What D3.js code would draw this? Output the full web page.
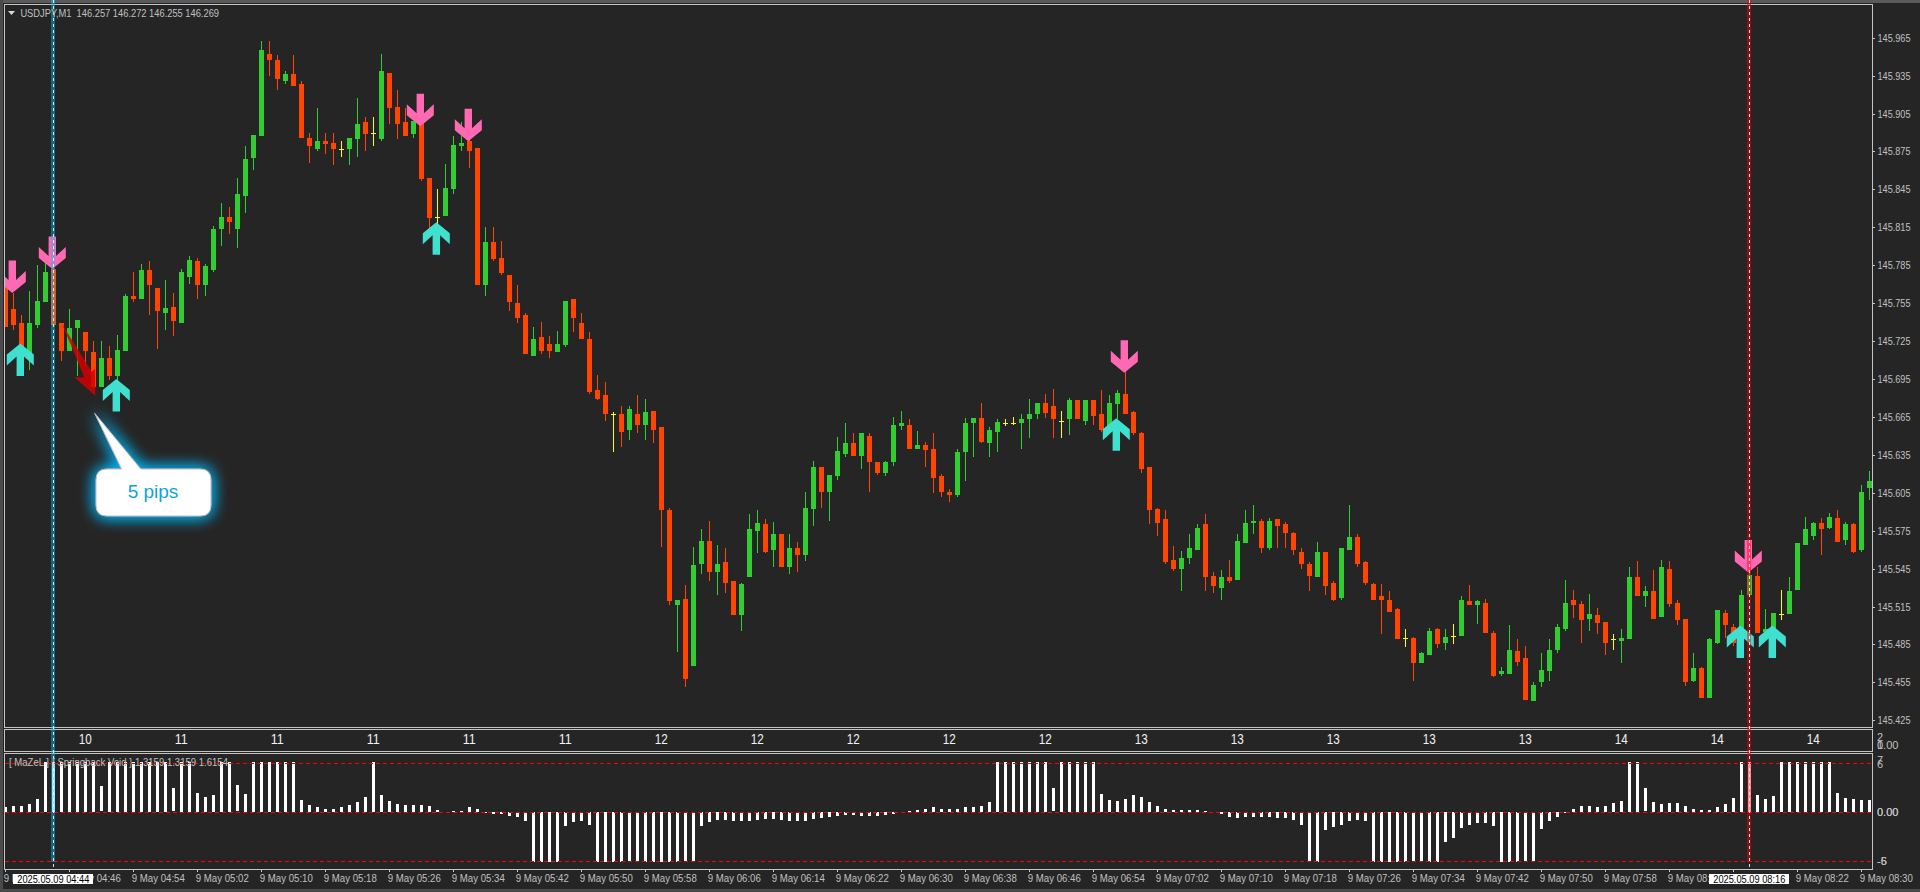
<!DOCTYPE html>
<html><head><meta charset="utf-8">
<script src="https://cdn.jsdelivr.net/npm/d3@7/dist/d3.min.js"></script>
<style>
html,body{margin:0;padding:0;background:#252525;overflow:hidden}
svg{display:block}
text{font-family:"Liberation Sans",Arial,sans-serif}
</style></head><body>
<svg id="c" width="1920" height="892"></svg>
<script>
// Prices are in thousandths above 145.000.
const priceBase = 145;
const opens = [
768,750,739,715,738,756,782,739,717,735,
732,716,689,712,697,717,761,758,781,767,
747,752,739,776,788,769,781,814,823,814,
840,870,887,952,947,931,936,928,886,877,
883,882,877,877,885,898,890,885,937,910,
898,889,898,854,823,824,845,879,883,878,
769,803,791,777,755,746,713,728,723,716,
722,758,739,727,686,682,667,667,655,667,
659,670,657,591,516,521,468,549,567,542,
550,535,508,538,575,580,560,572,546,561,
556,592,625,606,618,636,644,634,650,629,
621,629,658,659,640,643,640,618,606,603,
637,660,664,644,653,660,660,660,663,667,
676,674,662,663,678,662,678,667,656,675,
683,669,652,625,592,584,552,545,553,560,
580,539,530,538,536,565,581,583,561,584,
580,573,558,549,538,558,534,522,560,570,
550,533,523,520,513,490,490,470,477,497,
486,492,492,519,516,518,494,462,462,480,
474,440,455,464,481,497,520,517,505,508,
503,489,488,489,538,523,527,507,545,518,
505,456,466,443,486,510,499,492,524,539,
495,496,509,509,528,564,571,581,577,585,
568,580,560,609];
const highs = [
773,763,746,765,785,789,794,739,750,742,
732,725,725,721,730,762,780,786,788,767,
773,763,782,792,791,786,816,834,831,854,
879,888,962,962,951,939,951,931,890,909,
890,890,883,886,917,902,902,952,937,924,
909,899,907,854,845,865,887,898,892,878,
815,815,804,777,769,747,736,740,729,733,
757,758,747,732,698,693,669,674,674,682,
679,670,657,593,520,532,562,576,583,564,
561,535,534,588,591,584,582,572,572,566,
606,630,625,619,649,660,652,652,652,629,
630,665,670,663,654,645,652,620,608,640,
664,664,676,657,663,663,665,667,679,676,
683,687,670,680,678,678,678,686,682,686,
705,670,653,625,593,591,563,559,572,580,
588,542,544,552,572,591,595,584,585,584,
582,574,561,550,566,558,535,561,595,572,
551,534,533,527,514,497,491,479,498,498,
497,501,523,532,520,521,496,467,500,489,
484,455,478,489,501,536,528,519,525,514,
503,493,497,546,551,531,544,552,551,520,
505,478,467,490,512,512,501,528,543,546,
513,510,528,538,565,586,582,585,589,591,
582,581,611,622];
const lows = [
736,734,713,702,735,756,738,709,717,697,
705,688,689,694,694,717,756,758,746,719,
734,729,739,770,758,761,780,800,810,799,
826,860,887,935,924,928,927,886,866,875,
873,864,871,864,871,875,879,883,897,885,
887,886,852,813,813,824,841,875,862,769,
761,788,777,749,739,715,713,715,712,716,
720,732,727,683,678,662,637,641,647,652,
647,644,562,516,479,451,468,541,535,524,
526,508,496,538,557,557,546,546,541,542,
551,579,593,583,615,633,634,624,606,619,
618,626,655,640,640,625,605,602,598,602,
614,633,644,633,637,658,659,640,648,663,
664,648,648,651,663,659,659,653,655,663,
667,651,621,580,571,549,543,527,549,560,
527,526,520,534,536,565,572,557,560,561,
561,556,545,527,538,524,519,520,560,546,
532,520,493,511,489,483,456,470,477,482,
481,485,492,516,501,494,459,460,462,468,
441,440,451,456,478,496,506,486,496,493,
477,481,470,489,523,515,505,507,515,500,
452,455,443,443,485,490,484,489,524,494,
495,496,504,509,528,564,568,556,576,566,
564,557,558,599];
const closes = [
736,738,715,739,757,780,738,717,735,742,
717,689,712,697,718,761,758,781,769,749,
751,741,780,789,769,784,814,823,819,841,
869,888,955,947,932,936,927,886,879,883,
881,877,877,886,897,889,890,939,909,897,
887,899,853,822,823,846,880,882,875,769,
803,790,779,756,743,715,727,717,717,723,
757,743,727,685,679,667,667,653,671,659,
669,655,591,519,520,458,548,567,542,549,
534,508,533,576,581,558,572,546,561,556,
593,625,606,619,638,644,634,652,629,621,
629,659,660,640,643,639,617,606,603,637,
660,664,645,655,661,660,660,663,667,676,
668,663,662,678,663,678,666,655,676,684,
667,652,624,591,581,550,545,553,561,577,
538,531,538,535,567,581,583,561,583,579,
573,560,549,539,558,531,520,561,570,549,
534,520,520,511,489,490,470,478,496,485,
491,492,520,516,519,494,460,464,481,471,
441,453,465,481,499,518,516,504,509,502,
486,489,490,538,523,527,505,546,517,504,
455,466,443,489,512,500,486,524,540,494,
497,510,509,527,565,576,581,576,586,566,
580,558,606,614];
const histogram = [
.5,.6,.6,.8,1.3,5.1,5.1,5.1,5.1,5.1,
5.1,5.1,2.6,5.1,5.1,5.1,5.1,5.1,5.1,5.1,
5.1,2.4,5.1,5.1,1.9,1.5,1.7,5.1,5.1,2.7,
1.8,5.1,5.1,5.1,5.1,5.1,5.1,1.2,.7,.5,
.3,.3,.5,.7,1.0,1.5,5.1,1.7,1.1,.8,
.7,.7,.7,.6,.2,0,.1,.1,.5,.3,
-.1,-.2,-.2,-.4,-.5,-.9,-5.1,-5.1,-5.1,-5.1,
-1.4,-1.0,-.9,-1.3,-5.1,-5.1,-5.1,-5.1,-5.1,-5.1,
-5.1,-5.1,-5.1,-5.1,-5.1,-5.1,-5.1,-1.4,-1.0,-.8,
-.8,-.9,-.9,-.9,-.8,-.7,-.7,-.8,-.9,-.9,
-.9,-.7,-.6,-.5,-.4,-.3,-.3,-.4,-.4,-.4,
-.3,-.2,0,.05,.2,.3,.5,.3,.3,.3,
.5,.5,.6,1.0,5.1,5.1,5.1,5.1,5.1,5.1,
5.1,2.4,5.1,5.1,5.1,5.1,5.1,1.8,1.2,1.1,
1.3,1.7,1.5,1.0,.6,.3,.2,.2,.2,.2,
.1,0,-.2,-.5,-.6,-.5,-.5,-.5,-.5,-.6,
-.6,-.8,-1.3,-5.1,-5.1,-1.8,-1.5,-1.3,-.9,-.8,
-.9,-5.1,-5.1,-5.1,-5.1,-5.1,-5.1,-5.1,-5.1,-5.1,
-3.1,-2.7,-1.6,-1.3,-1.1,-1.1,-1.4,-5.1,-5.1,-5.1,
-5.1,-5.1,-1.7,-.9,-.5,-.1,.3,.6,.6,.5,
.6,.9,1.1,5.1,5.1,2.4,1.0,.8,.9,.9,
.6,.3,.2,.2,.5,.8,1.4,5.1,5.1,1.7,
1.3,1.6,5.1,5.1,5.1,5.1,5.1,5.1,5.1,1.9,
1.4,1.3,1.2,1.2];
const sellBars = [1,6,52,58,140,218];
const sellTips = [763,782,895,883,700,542];
const buyBars = [2,14,54,139,217,221];
const buyTips = [723,695,819,664,500,500];
const redArrowBars = [7.09,10.8,11.21,11.25,8.63,9.88];
const redArrowPrices = [738.5,700.7,703.4,681.7,696.3,696.3];
const priceTicks = [145.965,145.935,145.905,145.875,145.845,145.815,145.785,145.755,145.725,145.695,145.665,145.635,145.605,145.575,145.545,145.515,145.485,145.455,145.425];
const timeLabels = ["04:38","04:46","04:54","05:02","05:10","05:18","05:26","05:34","05:42","05:50","05:58","06:06","06:14","06:22","06:30","06:38","06:46","06:54","07:02","07:10","07:18","07:26","07:34","07:42","07:50","07:58","08:06","08:14","08:22","08:30"];
const rowValues = [10,11,11,11,11,11,12,12,12,12,12,13,13,13,13,13,14,14,14];
const indicatorLevels = [5,0,-5];
const selectedBars = [6,218];
const selectedLabels = ["2025.05.09 04:44","2025.05.09 08:16"];

const svg = d3.select("#c");
const x = d3.scaleLinear().domain([0,233]).range([5.3,1869.3]);
const cx = i => Math.floor(x(i));
const y = d3.scaleLinear().domain([145.965,145.425]).range([37.7,720.3]);
const py = v => y(priceBase + v/1000);
const yi = d3.scaleLinear().domain([-5,5]).range([860.6,762.9]);
const GREEN="#32cd32", ORANGE="#ff4500", YELLOW="#ffff00", LINE="#c4c4c4", TXT="#c0c0c0";

// window chrome
svg.append("rect").attr("width",1920).attr("height",892).attr("fill","#252525");
svg.append("rect").attr("width",1920).attr("height",3).attr("fill","#5a5a5a");
svg.append("rect").attr("width",3).attr("height",892).attr("fill","#4a4a4a");
svg.append("rect").attr("y",889).attr("width",1920).attr("height",3).attr("fill","#4a4a4a");

const defs = svg.append("defs");
defs.append("clipPath").attr("id","main").append("rect").attr("x",5).attr("y",5).attr("width",1867).attr("height",722);
const glow = defs.append("filter").attr("id","glow").attr("x","-50%").attr("y","-50%").attr("width","200%").attr("height","200%");
glow.append("feGaussianBlur").attr("in","SourceAlpha").attr("stdDeviation",8).attr("result","b");
glow.append("feFlood").attr("flood-color","#00aeea").attr("result","f");
glow.append("feComposite").attr("in","f").attr("in2","b").attr("operator","in").attr("result","s");
const gm = glow.append("feMerge");
gm.append("feMergeNode").attr("in","s"); gm.append("feMergeNode").attr("in","s"); gm.append("feMergeNode").attr("in","SourceGraphic");

// candles
const bars = d3.range(opens.length);
const col = i => opens[i]===closes[i] ? YELLOW : closes[i]>opens[i] ? GREEN : ORANGE;
const main = svg.append("g").attr("clip-path","url(#main)").attr("shape-rendering","crispEdges");
main.selectAll(".w").data(bars).join("rect").attr("class","w")
  .attr("x",cx).attr("width",1)
  .attr("y",i=>Math.round(py(highs[i])))
  .attr("height",i=>Math.max(1,Math.round(py(lows[i]))-Math.round(py(highs[i]))))
  .attr("fill",col);
main.selectAll(".b").data(bars).join("rect").attr("class","b")
  .attr("x",i=>cx(i)-2).attr("width",5)
  .attr("y",i=>Math.round(py(Math.max(opens[i],closes[i]))))
  .attr("height",i=>Math.max(1,Math.round(py(Math.min(opens[i],closes[i])))-Math.round(py(Math.max(opens[i],closes[i])))))
  .attr("fill",col);

// signal arrows: dir=+1 points down (tip at the bottom), -1 points up
function arrowPath(tx,ty,dir){
  const p=[[0,0],[13.5,-11*dir],[13.5,-22*dir],[3.7,-13*dir],[3.7,-32.5*dir],[-3.7,-32.5*dir],[-3.7,-13*dir],[-13.5,-22*dir],[-13.5,-11*dir]];
  return "M"+p.map(q=>[tx+q[0],ty+q[1]].join(",")).join("L")+"Z";
}
const arrows = svg.append("g").attr("clip-path","url(#main)");
arrows.selectAll(".s").data(sellBars).join("path").attr("class","s")
  .attr("d",(b,k)=>arrowPath(x(b)-1,py(sellTips[k]),1)).attr("fill","#ff69b4");
arrows.selectAll(".u").data(buyBars).join("path").attr("class","u")
  .attr("d",(b,k)=>arrowPath(x(b)-1,py(buyTips[k]),-1)).attr("fill","#40e0d0");

// red drawn arrow
svg.append("path")
  .attr("d",d3.line().x(b=>x(b)).y((b,k)=>py(redArrowPrices[k])).curve(d3.curveLinearClosed)(redArrowBars))
  .attr("fill","#d40000").attr("fill-opacity",.85);

// callout
const cb={x:96,y:469,w:115,h:47,r:11};
const tail={tx:94.7,ty:413.3,a:121.6,b:140.8};
const callout=`M${cb.x+cb.r},${cb.y}H${tail.a}L${tail.tx},${tail.ty}L${tail.b},${cb.y}H${cb.x+cb.w-cb.r}Q${cb.x+cb.w},${cb.y} ${cb.x+cb.w},${cb.y+cb.r}V${cb.y+cb.h-cb.r}Q${cb.x+cb.w},${cb.y+cb.h} ${cb.x+cb.w-cb.r},${cb.y+cb.h}H${cb.x+cb.r}Q${cb.x},${cb.y+cb.h} ${cb.x},${cb.y+cb.h-cb.r}V${cb.y+cb.r}Q${cb.x},${cb.y} ${cb.x+cb.r},${cb.y}Z`;
svg.append("path").attr("d",callout).attr("fill","#fff").attr("stroke","#bcbcbc").attr("stroke-width",1).attr("filter","url(#glow)");
svg.append("text").attr("x",153).attr("y",498).attr("text-anchor","middle").attr("font-size",19).attr("fill","#0ba3e2").text("5 pips");

// histogram
const ind = svg.append("g").attr("shape-rendering","crispEdges");
ind.selectAll("rect").data(bars).join("rect")
  .attr("x",i=>cx(i)-1).attr("width",3)
  .attr("y",i=>Math.round(Math.min(yi(0),yi(histogram[i]))))
  .attr("height",i=>histogram[i]===0?0:Math.max(1,Math.round(Math.abs(yi(0)-yi(histogram[i])))))
  .attr("fill","#fff");
svg.append("g").selectAll("line").data(indicatorLevels).join("line")
  .attr("x1",5).attr("x2",1872).attr("y1",d=>Math.round(yi(d))+.5).attr("y2",d=>Math.round(yi(d))+.5)
  .attr("stroke","#ff0000").attr("stroke-width",1).attr("stroke-dasharray","4,3");

// bar-number row
svg.append("g").selectAll("text").data(rowValues).join("text")
  .attr("x",(d,k)=>x(10+12*k)).attr("y",744).attr("text-anchor","middle")
  .attr("font-size",15).attr("fill","#f2f2f2").attr("textLength",13).attr("lengthAdjust","spacingAndGlyphs").text(d=>d);

// panel frames
const frame = svg.append("g").attr("fill","none").attr("stroke",LINE).attr("stroke-width",1).attr("shape-rendering","crispEdges");
[[4,4,1868,723],[4,729,1868,22],[4,753,1868,116]].forEach(r=>frame.append("rect").attr("x",r[0]).attr("y",r[1]).attr("width",r[2]).attr("height",r[3]));

// axes
const ya = svg.append("g").attr("transform","translate(1872.5,0)").call(d3.axisRight(y).tickValues(priceTicks).tickFormat(d3.format(".3f")).tickSize(2).tickPadding(3));
ya.select(".domain").remove();
ya.selectAll("line").attr("stroke",LINE).attr("shape-rendering","crispEdges");
ya.selectAll("text").attr("fill",TXT).attr("font-size",11).attr("font-family",'"Liberation Sans",Arial,sans-serif').attr("textLength",33).attr("lengthAdjust","spacingAndGlyphs");

const xa = svg.append("g").attr("transform","translate(0,869)").call(
  d3.axisBottom(x).tickValues(timeLabels.map((d,k)=>k*8)).tickFormat((d,k)=>"9 May "+timeLabels[k]).tickSize(3).tickPadding(3));
xa.select(".domain").remove();
xa.selectAll("line").attr("stroke",LINE).attr("shape-rendering","crispEdges");
xa.selectAll("text").attr("fill",TXT).attr("font-size",11).attr("font-family",'"Liberation Sans",Arial,sans-serif')
  .attr("text-anchor","start").attr("dx",-2).attr("y",5.5).attr("dy","0.71em").attr("textLength",53).attr("lengthAdjust","spacingAndGlyphs");

// small scale labels on the right
const sideLabels=[["2",737],["0",745],["1.00",745],["7",760],["6",764.5],["0.00",812],["0.00",812],["-5",861],["-6",861]];
svg.append("g").selectAll("text").data(sideLabels).join("text")
  .attr("x",1877).attr("y",d=>d[1]+3.5).attr("font-size",11).attr("fill",TXT).text(d=>d[0]);

// selection bands
const bandColors=["rgba(0,200,255,0.42)","rgba(255,0,0,0.45)"];
const bands=svg.append("g").attr("shape-rendering","crispEdges");
bands.selectAll("rect").data(selectedBars).join("rect")
  .attr("x",b=>cx(b)-2).attr("width",4).attr("y",0).attr("height",862).attr("fill",(b,k)=>bandColors[k]);
bands.selectAll("line").data(selectedBars).join("line")
  .attr("x1",b=>cx(b)).attr("x2",b=>cx(b)).attr("y1",0).attr("y2",868)
  .attr("stroke","#fff").attr("stroke-opacity",.85).attr("stroke-dasharray","3,3");

// date boxes
const boxes=svg.append("g");
selectedBars.forEach((b,k)=>{
  boxes.append("rect").attr("x",x(b)-40).attr("y",873.5).attr("width",80).attr("height",10.5).attr("fill","#fff").attr("shape-rendering","crispEdges");
  boxes.append("text").attr("x",x(b)).attr("y",882.7).attr("text-anchor","middle").attr("font-size",11).attr("fill","#000").attr("textLength",72).attr("lengthAdjust","spacingAndGlyphs").text(selectedLabels[k]);
});

// chart titles
svg.append("path").attr("d","M8,11H15L11.5,15Z").attr("fill","#d8d8d8");
svg.append("text").attr("x",20.4).attr("y",16.7).attr("font-size",11).attr("fill",TXT).attr("xml:space","preserve").attr("textLength",198.6).attr("lengthAdjust","spacingAndGlyphs").text("USDJPY,M1  146.257 146.272 146.255 146.269");
svg.append("text").attr("x",9).attr("y",766).attr("font-size",11).attr("fill",TXT).attr("xml:space","preserve").attr("textLength",219).attr("lengthAdjust","spacingAndGlyphs").text("[ MaZeL ] { Springback Void } 1.3159 1.3159 1.6154");
</script>
</body></html>
